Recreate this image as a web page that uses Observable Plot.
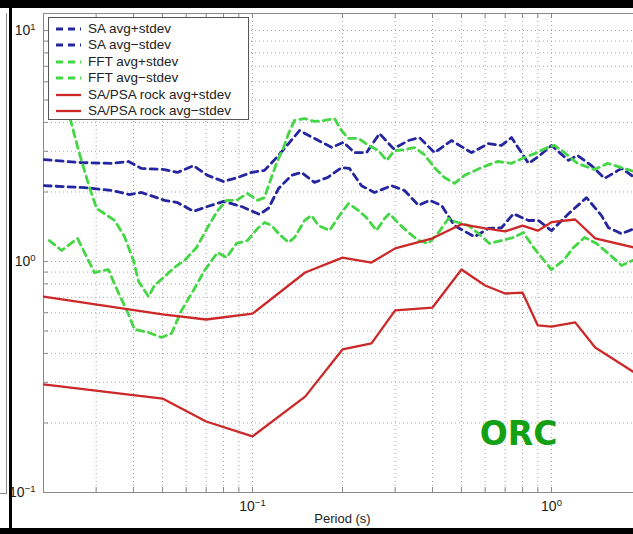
<!DOCTYPE html>
<html><head><meta charset="utf-8">
<script src="https://cdn.jsdelivr.net/npm/d3@7"></script>
<script src="https://cdn.jsdelivr.net/npm/@observablehq/plot@0.6"></script>
<style>
html,body{margin:0;padding:0;background:#fff;overflow:hidden;}
#wrap{position:relative;width:633px;height:534px;overflow:hidden;background:#fff;}
#chart{position:absolute;left:0;top:0;width:660px;}
#chart svg{max-width:none !important;}
.blk{position:absolute;background:#000;}
#frag{position:absolute;left:0;top:13px;width:6px;height:480px;border-right:1px solid #8a8a8a;border-bottom:1px solid #8a8a8a;}
#legend{position:absolute;left:48px;top:17px;width:201px;height:103px;box-sizing:border-box;border:1px solid #555;background:#fff;font:13.5px "Liberation Sans",Arial,sans-serif;color:#222;}
#legend .row{position:absolute;left:0;height:16px;line-height:16px;white-space:nowrap;}
#legend svg{position:absolute;left:6px;top:3px;}
#legend span{position:absolute;left:39px;top:0;}
</style></head>
<body><div id="wrap"><div id="chart"></div>
<div id="frag"></div>
<div class="blk" style="left:0;top:0;width:633px;height:8px"></div>
<div class="blk" style="left:9px;top:0;width:3px;height:534px"></div>
<div class="blk" style="left:0;top:528px;width:633px;height:6px"></div>
<div id="legend"></div>
</div>
<script>
// ---- data ----
const saPlusPeriod = [0.0201,0.0268,0.0338,0.0385,0.0425,0.0508,0.0561,0.0635,0.0707,0.0800,0.0891,0.0992,0.1097,0.1222,0.1320,0.1436,0.1612,0.1838,0.2015,0.2193,0.2406,0.2659,0.2962,0.3325,0.3618,0.4062,0.4630,0.5400,0.6156,0.6804,0.7348,0.8378,0.9047,1.0,1.140,1.222,1.361,1.505,1.715,1.896];
const saPlusValue  = [2.76,2.68,2.66,2.71,2.53,2.50,2.43,2.60,2.36,2.22,2.31,2.43,2.48,2.88,3.24,3.69,3.41,3.12,3.28,2.96,2.96,3.58,3.08,3.34,3.44,2.96,3.34,2.96,3.24,3.18,3.44,2.66,2.85,3.18,2.74,2.88,2.60,2.29,2.53,2.31];

const saMinusPeriod = [0.0201,0.0274,0.0338,0.0388,0.0425,0.0508,0.0561,0.0635,0.0707,0.0800,0.0919,0.1055,0.1131,0.1222,0.1350,0.1459,0.1612,0.1782,0.1985,0.2110,0.2315,0.2559,0.2917,0.3224,0.3591,0.3908,0.4287,0.4738,0.5527,0.6156,0.6804,0.7462,0.8378,0.9047,1.0,1.140,1.3095,1.47,1.551,1.715,1.896];
const saMinusValue  = [2.13,2.09,2.03,1.95,1.99,1.84,1.80,1.65,1.73,1.82,1.73,1.60,1.70,2.07,2.36,2.43,2.20,2.31,2.55,2.53,2.13,1.99,2.13,2.03,1.75,1.84,1.75,1.43,1.28,1.39,1.40,1.61,1.505,1.505,1.36,1.61,1.89,1.58,1.40,1.32,1.39];

const fftPlusPeriod = [0.0209,0.0244,0.0262,0.0285,0.0301,0.0346,0.0373,0.0400,0.0416,0.0449,0.0470,0.0508,0.0548,0.0592,0.0650,0.0707,0.0764,0.0819,0.0884,0.0962,0.1039,0.1097,0.1131,0.1203,0.1270,0.1320,0.1382,0.1493,0.1612,0.1741,0.1880,0.1985,0.2094,0.2262,0.2443,0.2639,0.2807,0.2985,0.3224,0.3482,0.3761,0.4062,0.4386,0.4738,0.5117,0.5833,0.6598,0.7348,0.8123,0.8773,0.9696,1.0233,1.1054,1.2218,1.3927,1.5396,1.7147,1.8957];
const fftPlusValue  = [6.4,4.29,3.02,2.09,1.70,1.505,1.283,1.01,0.819,0.705,0.787,0.861,0.942,1.01,1.15,1.40,1.66,1.84,1.84,1.97,1.84,1.89,2.13,2.66,3.115,3.58,4.08,4.16,4.04,4.08,4.16,3.69,3.41,3.41,3.18,3.02,2.74,3.02,3.05,3.115,2.90,2.55,2.31,2.18,2.36,2.55,2.71,2.66,2.82,2.93,3.115,3.18,2.96,2.66,2.50,2.66,2.55,2.45];

const fftMinusPeriod = [0.0209,0.0230,0.0260,0.0296,0.0330,0.0346,0.0385,0.0403,0.0449,0.0496,0.0536,0.0579,0.0640,0.0691,0.0764,0.0819,0.0884,0.0962,0.1039,0.1097,0.1158,0.1222,0.1320,0.1382,0.1493,0.1575,0.1662,0.1809,0.1954,0.2094,0.2262,0.2406,0.2598,0.2764,0.2872,0.3079,0.3325,0.3591,0.3878,0.4189,0.4524,0.4738,0.5277,0.5700,0.6203,0.6804,0.7462,0.8061,0.8706,0.9260,1.0,1.0968,1.1846,1.2895,1.4144,1.5513,1.7147,1.8957];
const fftMinusValue  = [1.233,1.116,1.258,0.896,0.923,0.795,0.590,0.508,0.493,0.469,0.488,0.614,0.764,0.914,1.094,1.041,1.197,1.233,1.389,1.475,1.432,1.322,1.209,1.270,1.505,1.582,1.432,1.362,1.582,1.783,1.663,1.550,1.362,1.535,1.614,1.461,1.335,1.233,1.197,1.335,1.535,1.49,1.432,1.322,1.197,1.233,1.270,1.335,1.150,1.041,0.923,1.010,1.150,1.270,1.197,1.083,0.961,1.020];

const rockPeriod     = [0.02,0.05,0.07,0.1,0.15,0.2,0.25,0.3,0.4,0.5,0.6,0.7,0.8,0.9,1.0,1.2,1.4,2.0];
const rockPlusValue  = [0.705,0.59,0.561,0.595,0.896,1.04,0.99,1.14,1.26,1.45,1.39,1.35,1.43,1.36,1.48,1.52,1.26,1.13];
const rockMinusValue = [0.294,0.255,0.203,0.175,0.26,0.416,0.442,0.614,0.632,0.923,0.787,0.727,0.734,0.529,0.523,0.545,0.424,0.316];

const seriesNames = ["SA avg+stdev","SA avg\u2212stdev","FFT avg+stdev","FFT avg\u2212stdev","SA/PSA rock avg+stdev","SA/PSA rock avg\u2212stdev"];

const xGridTicks = [0.02,0.03,0.04,0.05,0.06,0.07,0.08,0.09,0.1,0.2,0.3,0.4,0.5,0.6,0.7,0.8,0.9,1,2];
const yGridTicks = [0.1,0.2,0.3,0.4,0.5,0.6,0.7,0.8,0.9,1,2,3,4,5,6,7,8,9,10];
const xLabelTicks = [0.1, 1];
const yLabelTicks = [0.1, 1, 10];
const xAxisLabel = "Period (s)";
const stationLabel = ["ORC"];
const stationPeriod = [0.776];
const stationValue = [0.178];

// ---- styles ----
const BLUE = "#25259f", GREEN = "#45d645", RED = "#cc2828";
const series = [
  {name: seriesNames[0], period: saPlusPeriod,   value: saPlusValue,   color: BLUE,  dash: "7,5", w: 2.8},
  {name: seriesNames[1], period: saMinusPeriod,  value: saMinusValue,  color: BLUE,  dash: "7,5", w: 2.8},
  {name: seriesNames[2], period: fftPlusPeriod,  value: fftPlusValue,  color: GREEN, dash: "7,5", w: 2.8},
  {name: seriesNames[3], period: fftMinusPeriod, value: fftMinusValue, color: GREEN, dash: "7,5", w: 2.8},
  {name: seriesNames[4], period: rockPeriod,     value: rockPlusValue, color: RED,   dash: null,  w: 2.3},
  {name: seriesNames[5], period: rockPeriod,     value: rockMinusValue,color: RED,   dash: null,  w: 2.3}
];
const rowsOf = s => s.period.map((p, i) => ({name: s.name, period: p, value: s.value[i]}));

const W = 660, H = 534, ML = 43, MT = 13, MB = 42, MR = 19;
const frameH = H - MT - MB, frameW = W - ML - MR;
const sup = d => "10^" + Math.round(Math.log10(d));

const plot = Plot.plot({
  width: W, height: H,
  marginLeft: ML, marginTop: MT, marginBottom: MB, marginRight: MR,
  style: {fontFamily: '"Liberation Sans", Arial, sans-serif', fontSize: "13px", color: "#222", background: "transparent", maxWidth: "none"},
  x: {type: "log", domain: [0.02, 2]},
  y: {type: "log", domain: [0.1, 11.85]},
  marks: [
    Plot.ruleX(xGridTicks, {x: d => d, stroke: "#a8a8a8", strokeDasharray: "1,3", strokeWidth: 1}),
    Plot.ruleY(yGridTicks, {y: d => d, stroke: "#a8a8a8", strokeDasharray: "1,3", strokeWidth: 1}),
    Plot.tickX(xGridTicks, {x: d => d, stroke: "#8a8a8a", insetTop: frameH - 5}),
    Plot.tickX(xGridTicks, {x: d => d, stroke: "#8a8a8a", insetBottom: frameH - 5}),
    Plot.tickY(yGridTicks, {y: d => d, stroke: "#8a8a8a", insetRight: frameW - 5}),
    Plot.frame({stroke: "#8a8a8a"}),
    ...series.map(s => Plot.line(rowsOf(s), {x: "period", y: "value", stroke: s.color, strokeWidth: s.w, strokeDasharray: s.dash, clip: true})),
    Plot.axisX(xLabelTicks, {tickSize: 0, tickPadding: 9, tickFormat: sup, label: null, fontSize: 14}),
    Plot.axisY(yLabelTicks, {tickSize: 0, tickPadding: 8, tickFormat: sup, label: null, fontSize: 14}),
    Plot.text([xAxisLabel], {text: d => d, frameAnchor: "bottom", dy: 30, fontSize: 13}),
    Plot.text(stationLabel, {x: (d, i) => stationPeriod[i], y: (d, i) => stationValue[i], text: d => d,
      fontSize: 33, fontWeight: "bold", fill: "#14a014", fontFamily: '"DejaVu Sans", sans-serif'})
  ]
});
plot.style.maxWidth = "none";

// superscript exponents on the log tick labels
plot.querySelectorAll("text").forEach(t => {
  const m = /^10\^(-?\d+)$/.exec(t.textContent);
  if (!m) return;
  const e = m[1].replace("-", "\u2212");
  t.textContent = "10";
  const ts = document.createElementNS("http://www.w3.org/2000/svg", "tspan");
  ts.setAttribute("dy", "-0.55em");
  ts.setAttribute("font-size", "9.5");
  ts.textContent = e;
  t.appendChild(ts);
});
document.getElementById("chart").appendChild(plot);

// legend
const lg = document.getElementById("legend");
const rowTops = [3, 19, 36, 52, 69, 85];
series.forEach((s, i) => {
  const r = document.createElement("div");
  r.className = "row";
  r.style.top = rowTops[i] + "px";
  r.innerHTML = `<svg width="28" height="10"><line x1="1" y1="5" x2="26" y2="5" stroke="${s.color}" stroke-width="${s.w}" ${s.dash ? `stroke-dasharray="${s.dash}"` : ""}/></svg><span>${s.name}</span>`;
  lg.appendChild(r);
});
</script>
</body></html>
